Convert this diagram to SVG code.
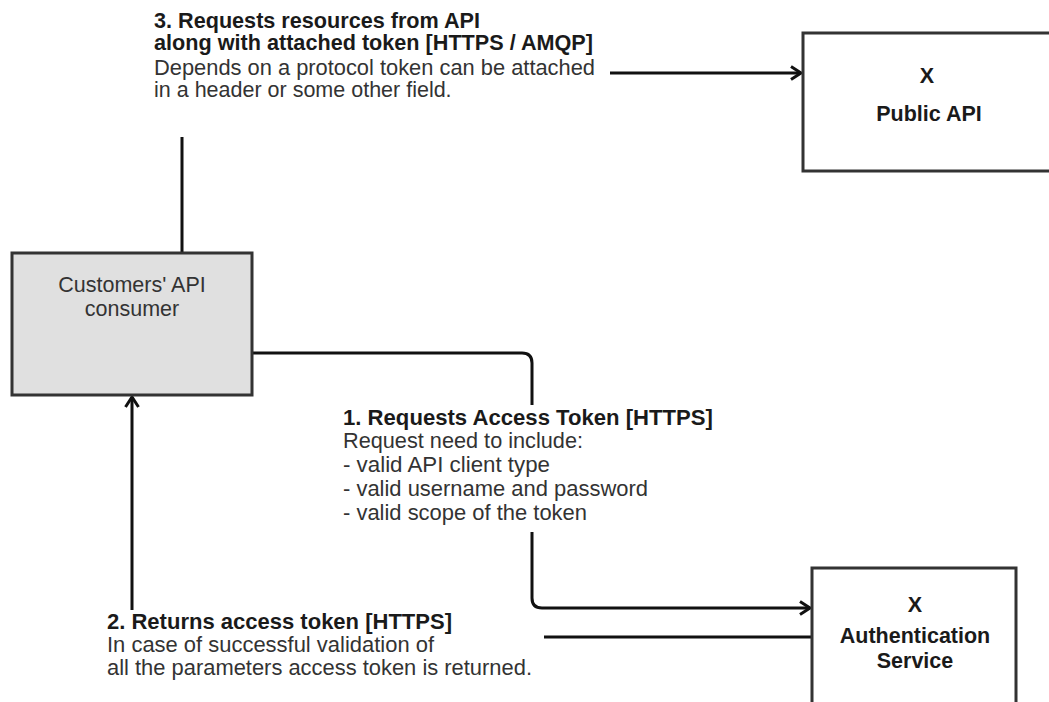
<svg xmlns="http://www.w3.org/2000/svg" width="1049" height="702" viewBox="0 0 1049 702">
<defs>
<style>
.node{stroke:#333;stroke-width:3;fill:#fff}
.gray{fill:#e0e0e0}
.edge{fill:none;stroke:#111;stroke-width:3}
.t{font-family:"Liberation Sans",Arial,sans-serif;font-size:21.5px;fill:#333}
.b{font-weight:bold;fill:#1a1a1a}
.c{text-anchor:middle}
.bg{fill:#fff}
</style>
<marker id="arr" viewBox="0 0 14 16" refX="12" refY="8" markerWidth="14" markerHeight="16" markerUnits="userSpaceOnUse" orient="auto">
<path d="M2,1.5 L12,8 L2,14.5" fill="none" stroke="#111" stroke-width="3"/>
</marker>
</defs>
<rect width="1049" height="702" fill="#fff"/>

<g id="connectors">
<path id="e3" class="edge" d="M182,253 V83 Q182,73 192,73 H801" marker-end="url(#arr)"/>
<path id="e1" class="edge" d="M252,353 H522 Q532,353 532,363 V598 Q532,608 542,608 H810" marker-end="url(#arr)"/>
<path id="e2" class="edge" d="M812,637 H142 Q132,637 132,627 V397" marker-end="url(#arr)"/>
</g>

<g id="label3">
<rect class="bg" x="148" y="4" width="462" height="133"/>
<text class="t b" x="154" y="28" textLength="326" lengthAdjust="spacingAndGlyphs">3. Requests resources from API</text>
<text class="t b" x="154" y="50" textLength="439" lengthAdjust="spacingAndGlyphs">along with attached token [HTTPS / AMQP]</text>
<text class="t" x="154" y="75" textLength="441" lengthAdjust="spacingAndGlyphs">Depends on a protocol token can be attached</text>
<text class="t" x="154" y="97">in a header or some other field.</text>
</g>

<g id="label1">
<rect class="bg" x="340" y="405" width="378" height="127"/>
<text class="t b" x="343" y="425" textLength="370" lengthAdjust="spacingAndGlyphs">1. Requests Access Token [HTTPS]</text>
<text class="t" x="343" y="448" textLength="240" lengthAdjust="spacingAndGlyphs">Request need to include:</text>
<text class="t" x="343" y="472" textLength="207" lengthAdjust="spacingAndGlyphs">- valid API client type</text>
<text class="t" x="343" y="496" textLength="305" lengthAdjust="spacingAndGlyphs">- valid username and password</text>
<text class="t" x="343" y="520" textLength="244" lengthAdjust="spacingAndGlyphs">- valid scope of the token</text>
</g>

<g id="label2">
<rect class="bg" x="104" y="610" width="440" height="80"/>
<text class="t b" x="107" y="629" textLength="345" lengthAdjust="spacingAndGlyphs">2. Returns access token [HTTPS]</text>
<text class="t" x="107" y="652" textLength="327" lengthAdjust="spacingAndGlyphs">In case of successful validation of</text>
<text class="t" x="107" y="675" textLength="425" lengthAdjust="spacingAndGlyphs">all the parameters access token is returned.</text>
</g>

<g id="public-api">
<rect class="node" x="803" y="33" width="250" height="138"/>
<text class="t b c" x="927" y="83">X</text>
<text class="t b c" x="929" y="121">Public API</text>
</g>

<g id="consumer">
<rect class="node gray" x="12" y="253" width="240" height="142"/>
<text class="t c" x="132" y="292">Customers' API</text>
<text class="t c" x="132" y="316">consumer</text>
</g>

<g id="auth-service">
<rect class="node" x="812" y="568" width="204" height="140"/>
<text class="t b c" x="915" y="612">X</text>
<text class="t b c" x="915" y="643">Authentication</text>
<text class="t b c" x="915" y="668">Service</text>
</g>
</svg>
